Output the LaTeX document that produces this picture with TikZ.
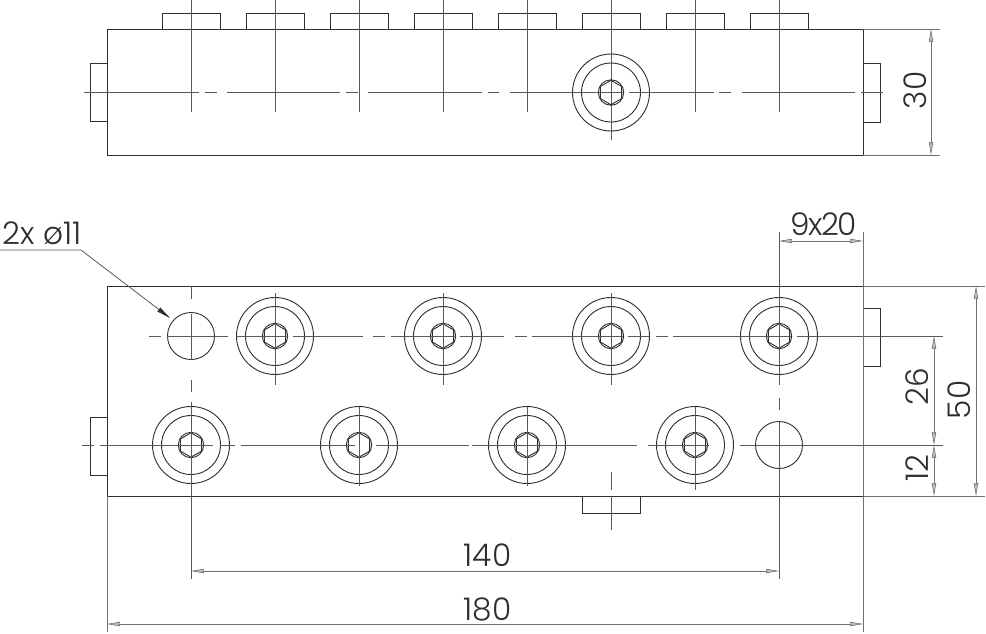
\documentclass[tikz,border=0pt]{standalone}
\usepackage{fontspec}
\setmainfont{Poppins}[UprightFont=* Light]
\usetikzlibrary{arrows.meta}
\definecolor{ink}{HTML}{2E2E2E}
\definecolor{thin}{HTML}{5A5A5A}
\definecolor{ext}{HTML}{707070}
\tikzset{
  outline/.style={draw=ink,line width=0.42pt},
  boltline/.style={draw=ink,line width=0.45pt},
  axis/.style={draw=thin,line width=0.42pt},
  extline/.style={draw=ext,line width=0.45pt},
  dimline/.style={draw=ext,line width=0.45pt,{Stealth[length=6.5pt,width=2.2pt,inset=0.4pt,fill=ext!45,color=ext,line width=0.3pt]}-{Stealth[length=6.5pt,width=2.2pt,inset=0.4pt,fill=ext!45,color=ext,line width=0.3pt]}},
  leader/.style={draw=thin,line width=0.4pt,-{Stealth[length=7pt,width=2.4pt,inset=0pt,fill=ink,color=ink,line width=0.2pt]}},
  dimtext/.style={text=ink,font=\fontsize{15.6}{16}\selectfont,inner sep=0pt},
}
\newcommand{\boltat}[2]{%
  \begin{scope}[shift={(#1,#2)}]
    \draw[boltline] (0,0) circle[radius=19.25pt];
    \draw[boltline] (0,0) circle[radius=14.75pt];
    \draw[boltline] (0,0) circle[radius=6.35pt];
    \draw[boltline] (90:6.1pt)--(30:6.1pt)--(-30:6.1pt)--(-90:6.1pt)--(-150:6.1pt)--(150:6.1pt)--cycle;
  \end{scope}}
\begin{document}
\begin{tikzpicture}[x=0.5pt,y=-0.5pt]
\useasboundingbox (0,0) rectangle (986,633);
\fill[white] (0,0) rectangle (986,633);
% ---- top view
\foreach \c in {191,275,359,443,527,611,695,779}{
  \draw[outline] (\c-29,29) -- (\c-29,13) -- (\c+29,13) -- (\c+29,29);
}
\draw[outline] (107,29) rectangle (863,155);
\draw[outline] (107,63) -- (90,63) -- (90,121) -- (107,121);
\draw[outline] (863,63) -- (880,63) -- (880,122) -- (863,122);
\foreach \c in {191,275,359,443,527,695,779}{
  \draw[axis] (\c,0) -- (\c,112);
}
\draw[axis] (611,0) -- (611,140);
\boltat{611}{92.5}
\foreach \a/\b in {84/199,205/217,227/340,346/358,368/482,488/499,510/624,629/714,719/731,742/855,861/883}{
  \draw[axis] (\a,92.5) -- (\b,92.5);
}
% dimension 30
\coordinate (e30a) at (940,29);
\coordinate (e30b) at (940,155);
\coordinate (d30a) at (931,29);
\coordinate (d30b) at (931,155);
\draw[extline] (863,29) -- (e30a);
\draw[extline] (863,155) -- (e30b);
\draw[dimline] (d30a) -- (d30b);
\node[dimtext,rotate=90] (t30) at (915.5,90.5) {30};
% ---- main view
\draw[outline] (107,286) rectangle (863,496);
\draw[outline] (863,308) -- (880,308) -- (880,366) -- (863,366);
\draw[outline] (107,417) -- (90,417) -- (90,475) -- (107,475);
\draw[outline] (582,496) -- (582,513) -- (640,513) -- (640,496);
\foreach \c in {275,443,611,779}{ \boltat{\c}{336} }
\foreach \c in {191,359,527,695}{ \boltat{\c}{445} }
\draw[boltline] (191,336) circle[radius=11.75pt];
\draw[boltline] (779,445) circle[radius=11.75pt];
% horizontal axes
\foreach \a/\b in {149/161,167/228,236/288,293/363,373/385,391/456,460/504,515/527,532/623,628/649,656/668,673/791,797/943}{
  \draw[axis] (\a,336) -- (\b,336);
}
\foreach \a/\b in {82/94,100/213,220/235,241/355,376/469,472/637,648/709,740/943}{
  \draw[axis] (\a,445) -- (\b,445);
}
% vertical axes
\foreach \a/\b in {286/299,314/360,380/392,402/579}{
  \draw[axis] (191,\a) -- (191,\b);
}
\foreach \c in {275,443,611}{ \draw[axis] (\c,293) -- (\c,385); }
\foreach \c in {359,527}{ \draw[axis] (\c,407) -- (\c,486); }
\draw[axis] (695,407) -- (695,490);
\draw[axis] (611,472) -- (611,490);
\draw[axis] (611,496) -- (611,530);
\foreach \a/\b in {232/385,398/410,422/579}{
  \draw[axis] (779,\a) -- (779,\b);
}
% extension lines
\coordinate (l180) at (107,632);
\coordinate (r180) at (863,632);
\coordinate (t920) at (863,232);
\draw[extline] (107,496) -- (l180);
\draw[extline] (t920) -- (r180);
\draw[extline] (863,286) -- (985,286);
\draw[extline] (863,496) -- (985,496);
% dimensions
\coordinate (a140) at (191,571);
\coordinate (b140) at (779,571);
\coordinate (a180) at (107,624);
\coordinate (b180) at (863,624);
\coordinate (a920) at (779,241);
\coordinate (b920) at (863,241);
\coordinate (a26) at (934,336);
\coordinate (b26) at (934,445);
\coordinate (a12) at (934,445);
\coordinate (b12) at (934,496);
\coordinate (a50) at (976,286);
\coordinate (b50) at (976,496);
\draw[dimline] (a140) -- (b140);
\draw[dimline] (a180) -- (b180);
\draw[dimline] (a920) -- (b920);
\draw[dimline] (a26) -- (b26);
\draw[dimline] (a12) -- (b12);
\draw[dimline] (a50) -- (b50);
\node[dimtext] (t140) at (487.5,555) {140};
\node[dimtext] (t180) at (487.5,609) {180};
\node[dimtext] (t920n) at (823.5,224) {\addfontfeature{LetterSpace=-5}9x20};
\node[dimtext,rotate=90] (t26) at (917,387) {26};
\node[dimtext,rotate=90] (t12) at (917,468) {12};
\node[dimtext,rotate=90] (t50) at (959,400) {50};
\node[dimtext,anchor=west] (tdia) at (2,233) {2x ø11};
% leader
\coordinate (ls) at (0,250);
\coordinate (lk) at (81,250);
\coordinate (lt) at (170,318);
\draw[leader] (ls) -- (lk) -- (lt);
\end{tikzpicture}
\end{document}
